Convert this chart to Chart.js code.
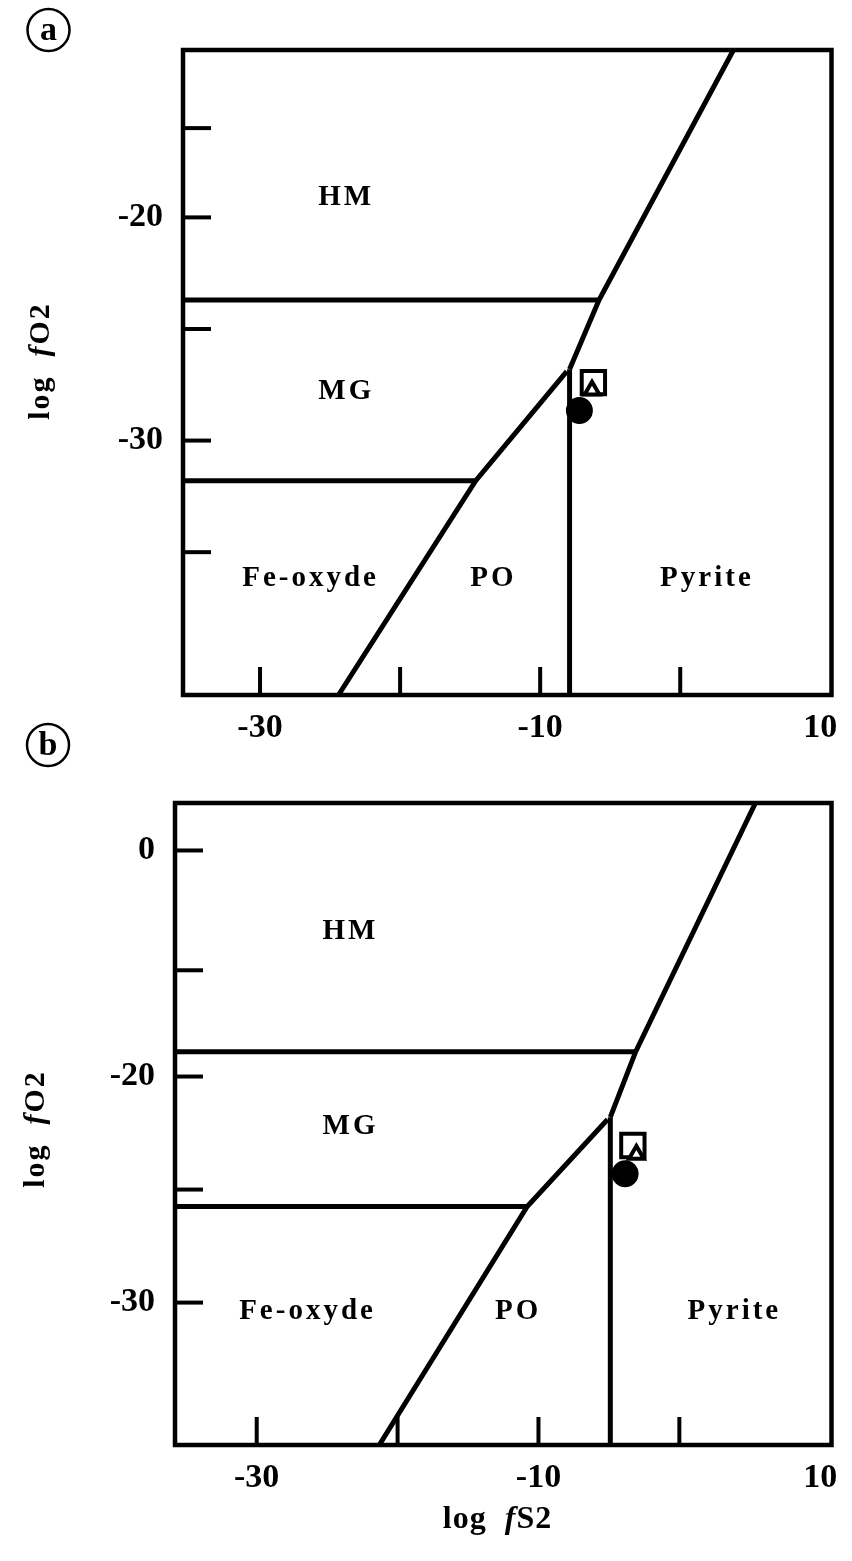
<!DOCTYPE html>
<html>
<head>
<meta charset="utf-8">
<script src="https://cdn.jsdelivr.net/npm/chart.js@4.4.1/dist/chart.umd.min.js"></script>
<style>
html, body { margin: 0; padding: 0; background: #fff; }
#wrapA { position: absolute; left: 0; top: 0; width: 852px; height: 760px; }
#wrapB { position: absolute; left: 0; top: 720px; width: 852px; height: 841px; }
</style>
</head>
<body>
<div id="wrapA"><canvas id="chartA"></canvas></div>
<div id="wrapB"><canvas id="chartB"></canvas></div>
<script>
// --- shared axis data ---------------------------------------------------
var xTickMarks = [-30, -20, -10, 0];          // inward tick marks on log fS2
var xTickValues = [-30, -10, 10];             // labelled values
var regionNames = ["HM", "MG", "Fe-oxyde", "PO", "Pyrite"];

// --- panel (a) ------------------------------------------------------------
var aRangeX = [-35.5, 10.8];
var aRangeY = [-41.4, -12.5];
var aYTickMarks = [-16, -20, -25, -30, -35];
var aYTickValues = [-20, -30];
var aYTickLabels = ["-20", "-30"];

var aHmMg = [[-35.5, -23.7], [-5.8, -23.7]];                  // HM / MG
var aMgFe = [[-35.5, -31.8], [-14.6, -31.8]];                 // MG / Fe-oxyde
var aPyrite = [[-7.9, -26.8], [-5.8, -23.7], [3.8, -12.5]];   // pyrite field upper limit
var aPoPy = [[-7.9, -26.8], [-7.9, -41.4]];                   // PO / Pyrite
var aMgPo = [[-24.4, -41.4], [-14.6, -31.8], [-8.1, -26.9]];  // MG-Fe-oxyde / PO

var aSquare = [[-6.2, -27.4]];
var aTriangle = [[-6.3, -27.75]];
var aCircle = [[-7.2, -28.65]];

var aNameX = [-23.95, -23.95, -26.5, -13.45, 1.8];
var aNameY = [-19.1, -27.8, -36.2, -36.2, -36.2];

// --- panel (b) ------------------------------------------------------------
var bRangeX = [-35.8, 10.8];
var bRangeY = [-36.3, -7.9];
var bYTickMarks = [-10, -15.3, -20, -25, -30];
var bYTickValues = [-10, -20, -30];
var bYTickLabels = ["0", "-20", "-30"];

var bHmMg = [[-35.8, -18.9], [-3.1, -18.9]];
var bMgFe = [[-35.8, -25.75], [-10.8, -25.75]];
var bPyrite = [[-4.9, -21.8], [-3.1, -18.9], [5.4, -7.9]];
var bPoPy = [[-4.9, -21.8], [-4.9, -36.3]];
var bMgPo = [[-21.3, -36.3], [-10.8, -25.75], [-5.1, -21.9]];

var bSquare = [[-3.3, -23.05]];
var bTriangle = [[-3.05, -23.45]];
var bCircle = [[-3.85, -24.3]];

var bNameX = [-23.45, -23.45, -26.5, -11.55, 3.8];
var bNameY = [-13.6, -22.2, -30.4, -30.4, -30.4];

// ----------------------------------------------------------------------
var SERIF = '"Liberation Serif", "DejaVu Serif", serif';

function toPoints(pairs) {
    return pairs.map(function (p) { return {x: p[0], y: p[1]}; });
}

function boundary(pairs) {
    return {
        data: toPoints(pairs),
        showLine: true,
        borderColor: "#000",
        borderWidth: 5,
        pointRadius: 0,
        fill: false,
        tension: 0
    };
}

function marker(pairs, style, radius, fill) {
    return {
        data: toPoints(pairs),
        showLine: false,
        pointStyle: style,
        pointRadius: radius,
        pointBackgroundColor: fill,
        pointBorderColor: "#000",
        pointBorderWidth: 4
    };
}

function drawLine(ctx, x1, y1, x2, y2) {
    ctx.beginPath();
    ctx.moveTo(x1, y1);
    ctx.lineTo(x2, y2);
    ctx.stroke();
}

// draw text with letter spacing, centered on (x, y)
function spacedText(ctx, parts, x, y, spacing) {
    var total = 0;
    parts.forEach(function (p) {
        ctx.font = p.font;
        total += ctx.measureText(p.text).width + spacing * p.text.length;
    });
    total -= spacing;
    var cx = x - total / 2;
    parts.forEach(function (p) {
        ctx.font = p.font;
        for (var i = 0; i < p.text.length; i++) {
            var ch = p.text[i];
            ctx.fillText(ch, cx, y);
            cx += ctx.measureText(ch).width + spacing;
        }
    });
}

var frameAndTicks = {
    id: "frameAndTicks",
    afterDatasetsDraw: function (chart, args, opts) {
        var ctx = chart.ctx, a = chart.chartArea;
        var xs = chart.scales.x, ys = chart.scales.y;
        ctx.save();
        ctx.strokeStyle = "#000";
        ctx.fillStyle = "#000";
        ctx.lineCap = "butt";

        // frame
        ctx.lineWidth = 4.5;
        ctx.strokeRect(a.left, a.top, a.right - a.left, a.bottom - a.top);

        // inward ticks
        ctx.lineWidth = 4;
        opts.yMarks.forEach(function (v) {
            var py = ys.getPixelForValue(v);
            drawLine(ctx, a.left, py, a.left + 28, py);
        });
        opts.xMarks.forEach(function (v) {
            var px = xs.getPixelForValue(v);
            drawLine(ctx, px, a.bottom, px, a.bottom - 28);
        });

        // field names
        ctx.textAlign = "left";
        ctx.textBaseline = "middle";
        regionNames.forEach(function (n, i) {
            spacedText(ctx, [{text: n, font: "bold 29px " + SERIF}],
                xs.getPixelForValue(opts.nameX[i]), ys.getPixelForValue(opts.nameY[i]), 3);
        });

        // y title "log fO2", rotated
        ctx.save();
        ctx.translate(opts.yTitle[0], opts.yTitle[1]);
        ctx.rotate(-Math.PI / 2);
        spacedText(ctx, [
            {text: "log  ", font: "bold 30px " + SERIF},
            {text: "f", font: "bold italic 30px " + SERIF},
            {text: "O2", font: "bold 30px " + SERIF}
        ], 0, 0, 2);
        ctx.restore();

        // x title "log fS2"
        if (opts.xTitle) {
            spacedText(ctx, [
                {text: "log  ", font: "bold 32px " + SERIF},
                {text: "f", font: "bold italic 32px " + SERIF},
                {text: "S2", font: "bold 32px " + SERIF}
            ], opts.xTitle[0], opts.xTitle[1], 1);
        }

        // circled panel letter
        ctx.lineWidth = 2.5;
        ctx.beginPath();
        ctx.arc(opts.letter[0], opts.letter[1], 21, 0, Math.PI * 2);
        ctx.stroke();
        ctx.textAlign = "center";
        ctx.font = "bold 34px " + SERIF;
        ctx.fillText(opts.letterText, opts.letter[0], opts.letter[1] + 1);
        ctx.restore();
    }
};

function makePanel(canvasId, p) {
    var ctx = document.getElementById(canvasId).getContext("2d");
    var labelMapY = {};
    p.yTickValues.forEach(function (v, i) { labelMapY[v] = p.yTickLabels[i]; });

    return new Chart(ctx, {
        type: "scatter",
        data: {
            datasets: [
                marker(p.triangle, "triangle", 8.5, "#fff"),
                marker(p.square, "rect", 16.5, "#fff"),
                marker(p.circle, "circle", 11.5, "#000"),
                boundary(p.hmMg),
                boundary(p.mgFe),
                boundary(p.pyrite),
                boundary(p.poPy),
                boundary(p.mgPo)
            ]
        },
        options: {
            responsive: true,
            maintainAspectRatio: false,
            animation: false,
            events: [],
            layout: {padding: {left: 0, top: p.padTop, right: 20, bottom: 0}},
            plugins: {
                legend: {display: false},
                tooltip: {enabled: false},
                frameAndTicks: p.deco
            },
            scales: {
                x: {
                    type: "linear",
                    min: p.rangeX[0],
                    max: p.rangeX[1],
                    grid: {display: false, drawTicks: false},
                    border: {display: false},
                    afterBuildTicks: function (s) {
                        s.ticks = xTickValues.map(function (v) { return {value: v}; });
                    },
                    afterFit: function (s) { s.height = p.xAxisHeight; },
                    ticks: {
                        autoSkip: false,
                        maxRotation: 0,
                        padding: 13,
                        color: "#000",
                        font: {family: SERIF, size: 34, weight: "bold"},
                        callback: function (v) { return String(v); }
                    }
                },
                y: {
                    type: "linear",
                    min: p.rangeY[0],
                    max: p.rangeY[1],
                    grid: {display: false, drawTicks: false},
                    border: {display: false},
                    afterBuildTicks: function (s) {
                        s.ticks = p.yTickValues.map(function (v) { return {value: v}; });
                    },
                    afterFit: function (s) { s.width = p.yAxisWidth; },
                    ticks: {
                        autoSkip: false,
                        padding: 20,
                        color: "#000",
                        font: {family: SERIF, size: 34, weight: "bold"},
                        callback: function (v) { return labelMapY[v]; }
                    }
                }
            }
        },
        plugins: [frameAndTicks]
    });
}

makePanel("chartA", {
    rangeX: aRangeX, rangeY: aRangeY,
    yTickValues: aYTickValues, yTickLabels: aYTickLabels,
    hmMg: aHmMg, mgFe: aMgFe, pyrite: aPyrite, poPy: aPoPy, mgPo: aMgPo,
    square: aSquare, triangle: aTriangle, circle: aCircle,
    padTop: 50, yAxisWidth: 183, xAxisHeight: 65,
    deco: {
        yMarks: aYTickMarks, xMarks: xTickMarks,
        nameX: aNameX, nameY: aNameY,
        yTitle: [41, 362],
        letter: [48.5, 30], letterText: "a"
    }
});

makePanel("chartB", {
    rangeX: bRangeX, rangeY: bRangeY,
    yTickValues: bYTickValues, yTickLabels: bYTickLabels,
    hmMg: bHmMg, mgFe: bMgFe, pyrite: bPyrite, poPy: bPoPy, mgPo: bMgPo,
    square: bSquare, triangle: bTriangle, circle: bCircle,
    padTop: 83, yAxisWidth: 175, xAxisHeight: 116,
    deco: {
        yMarks: bYTickMarks, xMarks: xTickMarks,
        nameX: bNameX, nameY: bNameY,
        yTitle: [36, 410],
        xTitle: [497, 800],
        letter: [48, 25], letterText: "b"
    }
});
</script>
</body>
</html>
